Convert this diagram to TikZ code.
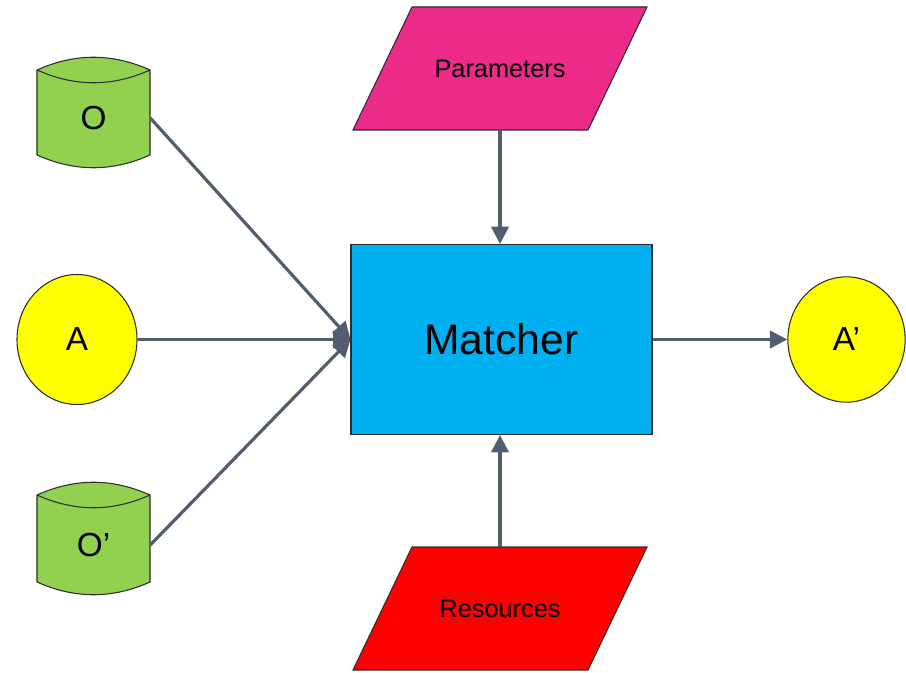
\documentclass[tikz,border=0pt]{standalone}
\usepackage{fontspec}
\setmainfont{Liberation Sans}
\usetikzlibrary{arrows.meta,shapes.geometric}

\definecolor{dbgreen}{RGB}{146,208,80}
\definecolor{ioyellow}{RGB}{255,255,0}
\definecolor{matchblue}{RGB}{0,176,240}
\definecolor{parampink}{RGB}{236,42,138}
\definecolor{resred}{RGB}{255,0,0}
\definecolor{flow}{RGB}{82,94,112}
\definecolor{outline}{RGB}{45,45,45}

\tikzset{
  shapeline/.style={draw=outline, line width=0.8pt},
  flowarrow/.style={draw=flow, line width=2.4pt, -{Triangle[length=13pt,width=13pt]}},
  label/.style={inner sep=0pt, font=\fontsize{25}{30}\selectfont},
  iolabel/.style={inner sep=0pt, font=\fontsize{19}{23}\selectfont},
  ioround/.style={shapeline, ellipse, fill=ioyellow, inner sep=0pt,
                  font=\fontsize{25}{30}\selectfont}
}

% cylinder outline: top corners at y=#1, bottom corners at y=#2
\newcommand\dbdrum[2]{%
  \draw[shapeline, fill=dbgreen]
    (37,#1) .. controls (75,#1-17) and (112,#1-17) .. (150,#1)
    -- (150,#2) .. controls (112,#2+17) and (75,#2+17) .. (37,#2) -- cycle;
  \draw[shapeline]
    (37,#1) .. controls (75,#1+17) and (112,#1+17) .. (150,#1);
}

\begin{document}
\begin{tikzpicture}[x=0.75pt,y=-0.75pt]
  \useasboundingbox (0,0) rectangle (906,673);

  % data sources
  \dbdrum{70}{155}
  \dbdrum{495}{582}
  \node[label, minimum width=84.75pt, minimum height=60pt] (O)  at (93.5,118) {O};
  \node[label, minimum width=84.75pt, minimum height=60pt] (O2) at (93.5,545) {O’};

  % alignment in and out
  \node[ioround, minimum width=90pt, minimum height=97.5pt] (A)  at (77,339.5) {A};
  \node[ioround, minimum width=88pt, minimum height=94pt]   (A2) at (846.5,339.5) {A’};

  % central matcher
  \node[shapeline, fill=matchblue, inner sep=0pt,
        minimum width=225.75pt, minimum height=142.5pt,
        font=\fontsize{32}{38}\selectfont] (M) at (501.5,339.5) {Matcher};

  % parameter and resource inputs
  \draw[shapeline, fill=parampink] (412,7) -- (647,7) -- (588,130) -- (353,130) -- cycle;
  \node[iolabel, minimum height=92.25pt] (P) at (500,68.5) {Parameters};
  \draw[shapeline, fill=resred] (412,547) -- (647,547) -- (588,670) -- (353,670) -- cycle;
  \node[iolabel, minimum height=92.25pt] (R) at (500,608.5) {Resources};

  % flows
  \draw[flowarrow] (O.east)  -- (M.west);
  \draw[flowarrow] (A.east)  -- (M.west);
  \draw[flowarrow] (O2.east) -- (M.west);
  \draw[flowarrow] (P.south) -- (P.south |- M.north);
  \draw[flowarrow] (R.north) -- (R.north |- M.south);
  \draw[flowarrow] (M.east)  -- (A2.west);
\end{tikzpicture}
\end{document}
